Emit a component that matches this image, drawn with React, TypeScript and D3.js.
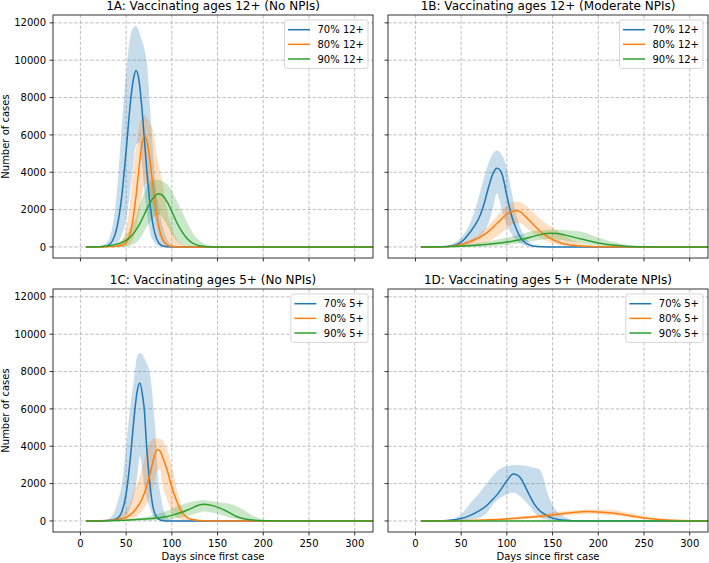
import React from "react";
import * as d3 from "d3";

// ---------- DATA ----------
const X_TICKS = [0, 50, 100, 150, 200, 250, 300];
const Y_TICKS = [0, 2000, 4000, 6000, 8000, 10000, 12000];
const X_DOMAIN = [-30, 320];

const TITLES = [
  "1A: Vaccinating ages 12+ (No NPIs)",
  "1B: Vaccinating ages 12+ (Moderate NPIs)",
  "1C: Vaccinating ages 5+ (No NPIs)",
  "1D: Vaccinating ages 5+ (Moderate NPIs)",
];
const LABELS_12 = ["70% 12+", "80% 12+", "90% 12+"];
const LABELS_5 = ["70% 5+", "80% 5+", "90% 5+"];
const COLORS = ["#1f77b4", "#ff7f0e", "#2ca02c"];

// Panel 1A
const A70_days = [6, 20, 25, 30, 35, 40, 45, 50, 55, 58, 61, 64, 67, 70, 73, 76, 80, 83, 86, 90, 95, 100, 105, 110, 120, 330];
const A70_mean = [0, 5, 15, 80, 320, 1050, 2630, 5160, 7890, 9000, 9450, 8940, 7570, 5730, 3890, 2360, 1020, 480, 200, 55, 10, 2, 0, 0, 0, 0];
const A70_hi = [0, 40, 120, 300, 1100, 3000, 6300, 9300, 11400, 11750, 11830, 11550, 11100, 10600, 9700, 7600, 4700, 3000, 2000, 1100, 400, 120, 30, 0, 0, 0];
const A70_lo = [0, 0, 0, 0, 50, 200, 600, 1500, 3200, 4500, 5500, 5600, 4600, 3000, 1700, 800, 300, 120, 50, 10, 0, 0, 0, 0, 0, 0];

const A80_days = [6, 20, 30, 40, 45, 50, 55, 58, 61, 64, 67, 70, 73, 76, 80, 83, 86, 90, 95, 100, 105, 110, 115, 120, 130, 330];
const A80_mean = [0, 3, 15, 40, 90, 250, 850, 1650, 2800, 4200, 5400, 5950, 5600, 4650, 3000, 1850, 1000, 380, 100, 25, 5, 0, 0, 0, 0, 0];
const A80_hi = [0, 5, 40, 100, 350, 1000, 2700, 4300, 5300, 6450, 6950, 7050, 6900, 6600, 6100, 5000, 4300, 3400, 1900, 1000, 450, 180, 50, 0, 0, 0];
const A80_lo = [0, 0, 0, 0, 0, 50, 200, 500, 1000, 1800, 2700, 3300, 3400, 2900, 1800, 1100, 600, 250, 60, 10, 0, 0, 0, 0, 0, 0];

const A90_days = [6, 20, 30, 40, 50, 55, 60, 65, 70, 75, 80, 86, 90, 95, 100, 105, 110, 115, 120, 125, 130, 140, 150, 160, 330];
const A90_mean = [0, 15, 50, 150, 350, 550, 850, 1250, 1750, 2250, 2650, 2850, 2750, 2400, 1900, 1350, 900, 550, 300, 150, 70, 15, 0, 0, 0];
const A90_hi = [0, 20, 70, 200, 600, 1000, 1500, 2300, 2900, 3400, 3580, 3600, 3500, 3350, 3000, 2500, 2000, 1500, 1000, 600, 350, 100, 20, 0, 0];
const A90_lo = [0, 0, 0, 0, 30, 80, 200, 450, 850, 1250, 1600, 1720, 1550, 1150, 700, 350, 150, 50, 10, 0, 0, 0, 0, 0, 0];

// Panel 1B
const B70_days = [6, 30, 40, 50, 60, 65, 70, 75, 80, 85, 89, 92, 95, 100, 105, 110, 115, 120, 125, 130, 140, 150, 330];
const B70_mean = [0, 10, 60, 260, 800, 1150, 1600, 2300, 3200, 3950, 4220, 4150, 3850, 2750, 1700, 1000, 500, 230, 100, 40, 10, 0, 0];
const B70_hi = [0, 20, 150, 500, 1300, 1950, 2800, 3700, 4500, 5000, 5160, 5100, 4900, 4200, 3000, 1800, 1000, 500, 250, 100, 20, 0, 0];
const B70_lo = [0, 0, 10, 40, 150, 300, 500, 800, 1300, 2100, 2880, 2500, 1900, 1200, 700, 350, 170, 80, 30, 10, 0, 0, 0];

const B80_days = [6, 30, 40, 50, 60, 70, 80, 90, 100, 110, 115, 120, 130, 140, 150, 160, 170, 180, 190, 200, 220, 240, 330];
const B80_mean = [0, 10, 40, 120, 300, 500, 830, 1300, 1750, 1940, 1880, 1650, 1150, 700, 400, 200, 100, 50, 25, 15, 5, 0, 0];
const B80_hi = [0, 20, 60, 200, 400, 700, 1150, 1700, 2200, 2440, 2400, 2250, 1800, 1350, 1050, 700, 400, 200, 100, 40, 10, 0, 0];
const B80_lo = [0, 0, 0, 10, 50, 150, 300, 600, 1000, 1300, 1250, 1100, 700, 400, 200, 90, 40, 20, 5, 0, 0, 0, 0];

const B90_days = [6, 40, 60, 80, 100, 110, 120, 130, 140, 147, 155, 165, 175, 185, 195, 205, 215, 230, 250, 270, 330];
const B90_mean = [0, 20, 70, 150, 260, 340, 440, 580, 700, 740, 720, 620, 500, 390, 270, 170, 100, 40, 10, 0, 0];
const B90_hi = [0, 60, 150, 300, 500, 620, 750, 850, 900, 915, 920, 900, 850, 780, 600, 420, 280, 130, 40, 10, 0];
const B90_lo = [0, 0, 10, 30, 100, 170, 250, 330, 400, 420, 400, 330, 250, 170, 100, 50, 20, 5, 0, 0, 0];

// Panel 1C
const C70_days = [6, 20, 25, 30, 35, 40, 45, 50, 53, 55, 58, 60, 62, 65, 68, 70, 72, 76, 80, 82, 85, 88, 91, 95, 100, 110, 330];
const C70_mean = [0, 3, 10, 25, 50, 120, 450, 1450, 2600, 3580, 5180, 6160, 6920, 7390, 6700, 5900, 4300, 1950, 610, 330, 120, 40, 10, 0, 0, 0, 0];
const C70_hi = [0, 20, 50, 100, 300, 900, 1900, 4000, 5500, 6300, 7400, 8200, 8800, 9000, 8900, 8700, 8500, 7900, 6000, 4800, 2300, 1300, 600, 200, 50, 0, 0];
const C70_lo = [0, 0, 0, 0, 10, 50, 150, 300, 550, 800, 1300, 1700, 2370, 3450, 2600, 1800, 1300, 700, 200, 120, 50, 20, 5, 0, 0, 0, 0];

const C80_days = [6, 30, 40, 50, 55, 60, 65, 70, 75, 80, 84, 87, 90, 95, 100, 105, 110, 115, 120, 130, 140, 330];
const C80_mean = [0, 20, 70, 200, 350, 600, 950, 1500, 2300, 3300, 3830, 3750, 3400, 2700, 1800, 1100, 550, 250, 100, 20, 0, 0];
const C80_hi = [0, 50, 200, 600, 1100, 1800, 2400, 3300, 4100, 4400, 4420, 4400, 4300, 3800, 2900, 1800, 900, 300, 100, 20, 0, 0];
const C80_lo = [0, 0, 0, 50, 100, 200, 400, 700, 1200, 1900, 2700, 2750, 1900, 1100, 500, 200, 60, 20, 0, 0, 0, 0];

const C90_days = [6, 30, 50, 70, 90, 100, 110, 120, 130, 135, 140, 150, 160, 170, 180, 190, 200, 210, 220, 230, 330];
const C90_mean = [0, 10, 40, 100, 200, 300, 450, 650, 860, 890, 870, 740, 520, 250, 100, 40, 15, 5, 0, 0, 0];
const C90_hi = [0, 20, 80, 200, 450, 650, 850, 1000, 1100, 1110, 1080, 1000, 950, 820, 550, 250, 80, 20, 5, 0, 0];
const C90_lo = [0, 0, 5, 20, 60, 100, 180, 300, 450, 500, 480, 380, 220, 100, 40, 10, 0, 0, 0, 0, 0];

// Panel 1D
const D70_days = [6, 30, 40, 45, 50, 60, 70, 78, 85, 90, 95, 100, 107, 111, 115, 120, 125, 130, 136, 140, 145, 150, 155, 160, 170, 180, 190, 330];
const D70_mean = [0, 10, 50, 85, 130, 300, 550, 830, 1170, 1450, 1800, 2150, 2510, 2470, 2300, 1850, 1350, 900, 550, 400, 250, 150, 90, 50, 15, 0, 0, 0];
const D70_hi = [0, 20, 100, 180, 350, 950, 1500, 2000, 2450, 2700, 2850, 2930, 2980, 2990, 2980, 2950, 2900, 2850, 2750, 2300, 1400, 850, 500, 300, 80, 20, 0, 0];
const D70_lo = [0, 0, 0, 10, 20, 60, 170, 420, 900, 1150, 1300, 1420, 1510, 1450, 1300, 1050, 800, 450, 180, 100, 50, 20, 10, 0, 0, 0, 0, 0];

const D80_days = [6, 40, 60, 80, 100, 120, 140, 160, 175, 187, 200, 215, 230, 245, 260, 280, 300, 320, 330];
const D80_mean = [0, 10, 30, 60, 110, 180, 270, 390, 470, 500, 480, 420, 320, 200, 110, 40, 10, 3, 2];
const D80_hi = [0, 20, 50, 100, 170, 260, 380, 500, 570, 610, 620, 580, 470, 330, 200, 90, 30, 15, 10];
const D80_lo = [0, 0, 5, 20, 50, 100, 160, 260, 330, 370, 360, 300, 210, 120, 60, 20, 5, 0, 0];

const D90_days = [6, 330];
const D90_mean = [0, 0];
const D90_hi = [0, 0];
const D90_lo = [0, 0];

// ---------- STRUCTURE ----------
type Series = { days: number[]; mean: number[]; lo: number[]; hi: number[] };
const mk = (days: number[], mean: number[], lo: number[], hi: number[]): Series => ({ days, mean, lo, hi });

const PANEL_SERIES: Series[][] = [
  [mk(A70_days, A70_mean, A70_lo, A70_hi), mk(A80_days, A80_mean, A80_lo, A80_hi), mk(A90_days, A90_mean, A90_lo, A90_hi)],
  [mk(B70_days, B70_mean, B70_lo, B70_hi), mk(B80_days, B80_mean, B80_lo, B80_hi), mk(B90_days, B90_mean, B90_lo, B90_hi)],
  [mk(C70_days, C70_mean, C70_lo, C70_hi), mk(C80_days, C80_mean, C80_lo, C80_hi), mk(C90_days, C90_mean, C90_lo, C90_hi)],
  [mk(D70_days, D70_mean, D70_lo, D70_hi), mk(D80_days, D80_mean, D80_lo, D80_hi), mk(D90_days, D90_mean, D90_lo, D90_hi)],
];
const PANEL_LABELS = [LABELS_12, LABELS_12, LABELS_5, LABELS_5];

// ---------- LAYOUT ----------
const W = 709;
const H = 563;
const PW = 320;
const PH = 243;
const ORIGINS: [number, number][] = [
  [53, 15],
  [388, 15],
  [53, 289],
  [388, 289],
];
const FONT = "DejaVu Sans, Liberation Sans, sans-serif";

const allHi = PANEL_SERIES.flat().flatMap((s) => s.hi);
const yMax = d3.max(allHi) as number;
const Y_DOMAIN = [-0.05 * yMax, 1.05 * yMax];

let measureCtx: CanvasRenderingContext2D | null = null;
function textWidth(s: string, size: number) {
  if (!measureCtx) {
    const c = document.createElement("canvas");
    measureCtx = c.getContext("2d");
  }
  if (!measureCtx) return s.length * 6;
  measureCtx.font = `${size}px "DejaVu Sans"`;
  return measureCtx.measureText(s).width;
}

function Panel({ idx }: { idx: number }) {
  const [x0, y0] = ORIGINS[idx];
  const col = idx % 2;
  const row = Math.floor(idx / 2);
  const x = d3.scaleLinear().domain(X_DOMAIN).range([x0, x0 + PW]);
  const y = d3.scaleLinear().domain(Y_DOMAIN).range([y0 + PH, y0]);
  const series = PANEL_SERIES[idx];
  const labels = PANEL_LABELS[idx];
  const clipId = `clip-${idx}`;

  const areaPath = (s: Series) =>
    d3
      .area<number>()
      .x((d) => x(d))
      .y0((_, i) => y(s.lo[i]))
      .y1((_, i) => y(s.hi[i]))
      .curve(d3.curveMonotoneX)(s.days) || "";
  const linePath = (s: Series) =>
    d3
      .line<number>()
      .x((d) => x(d))
      .y((_, i) => y(s.mean[i]))
      .curve(d3.curveMonotoneX)(s.days) || "";

  const maxW = Math.max(...labels.map((l) => textWidth(l, 10)));
  const legW = maxW + 37;
  const legH = 48.4;
  const legRight = x0 + PW - 5;
  const legLeft = legRight - legW;
  const legTop = y0 + 5;

  return (
    <g>
      <defs>
        <clipPath id={clipId}>
          <rect x={x0} y={y0} width={PW} height={PH} />
        </clipPath>
      </defs>
      {/* grid */}
      <g stroke="#b0b0b0" strokeWidth={0.8} strokeDasharray="3.5,1.8">
        {X_TICKS.map((t) => (
          <line key={"gx" + t} x1={x(t)} x2={x(t)} y1={y0} y2={y0 + PH} />
        ))}
        {Y_TICKS.map((t) => (
          <line key={"gy" + t} x1={x0} x2={x0 + PW} y1={y(t)} y2={y(t)} />
        ))}
      </g>
      <g clipPath={`url(#${clipId})`}>
        {series.map((s, i) => (
          <path key={"a" + i} d={areaPath(s)} fill={COLORS[i]} fillOpacity={0.25} stroke="none" />
        ))}
        {series.map((s, i) => (
          <path key={"l" + i} d={linePath(s)} fill="none" stroke={COLORS[i]} strokeWidth={1.5} strokeLinejoin="round" />
        ))}
      </g>
      {/* frame */}
      <rect x={x0} y={y0} width={PW} height={PH} fill="none" stroke="#000" strokeWidth={0.8} />
      {/* x ticks */}
      {X_TICKS.map((t) => (
        <g key={"xt" + t}>
          <line x1={x(t)} x2={x(t)} y1={y0 + PH} y2={y0 + PH + 3.5} stroke="#000" strokeWidth={0.8} />
          {row === 1 && (
            <text x={x(t)} y={y0 + PH + 15} textAnchor="middle" fontSize={10} fontFamily={FONT} fill="#000">
              {String(t)}
            </text>
          )}
        </g>
      ))}
      {/* y ticks */}
      {Y_TICKS.map((t) => (
        <g key={"yt" + t}>
          <line x1={x0 - 3.5} x2={x0} y1={y(t)} y2={y(t)} stroke="#000" strokeWidth={0.8} />
          {col === 0 && (
            <text x={x0 - 7} y={y(t) + 3.6} textAnchor="end" fontSize={10} fontFamily={FONT} fill="#000">
              {String(t)}
            </text>
          )}
        </g>
      ))}
      {/* title */}
      <text x={x0 + PW / 2} y={y0 - 5} textAnchor="middle" fontSize={12} fontFamily={FONT} fill="#000">
        {TITLES[idx]}
      </text>
      {/* axis labels */}
      {col === 0 && (
        <text
          transform={`translate(${8.5},${y0 + PH / 2}) rotate(-90)`}
          textAnchor="middle"
          fontSize={10}
          fontFamily={FONT}
          fill="#000"
        >
          Number of cases
        </text>
      )}
      {row === 1 && (
        <text x={x0 + PW / 2} y={559.5} textAnchor="middle" fontSize={10} fontFamily={FONT} fill="#000">
          Days since first case
        </text>
      )}
      {/* legend */}
      <g>
        <rect
          x={legLeft}
          y={legTop}
          width={legW}
          height={legH}
          rx={2}
          ry={2}
          fill="#fff"
          fillOpacity={0.8}
          stroke="#cccccc"
          strokeWidth={0.8}
        />
        {labels.map((l, i) => {
          const cy = legTop + 9.7 + i * 14.65;
          return (
            <g key={"lg" + i}>
              <line x1={legLeft + 3.5} x2={legLeft + 25.5} y1={cy} y2={cy} stroke={COLORS[i]} strokeWidth={1.5} />
              <text x={legLeft + 33} y={cy + 3.6} fontSize={10} fontFamily={FONT} fill="#000">
                {l}
              </text>
            </g>
          );
        })}
      </g>
    </g>
  );
}

export default function App() {
  return (
    <svg
      width={W}
      height={H}
      viewBox={`0 0 ${W} ${H}`}
      style={{ position: "absolute", left: 0, top: 0, display: "block", background: "#fff" }}
    >
      <rect x={0} y={0} width={W} height={H} fill="#fff" />
      {[0, 1, 2, 3].map((i) => (
        <Panel key={i} idx={i} />
      ))}
    </svg>
  );
}
